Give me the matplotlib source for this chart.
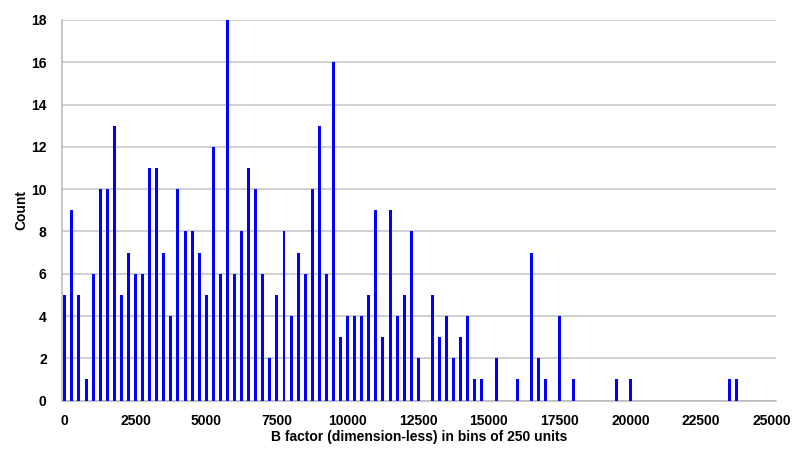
import matplotlib
matplotlib.use("Agg")
import matplotlib.pyplot as plt

# B factor histogram, bins of 250 units (only non-empty bins listed)
bin_starts = [0, 250, 500, 750, 1000, 1250, 1500, 1750, 2000, 2250, 2500, 2750,
              3000, 3250, 3500, 3750, 4000, 4250, 4500, 4750, 5000, 5250, 5500, 5750,
              6000, 6250, 6500, 6750, 7000, 7250, 7500, 7750, 8000, 8250, 8500, 8750,
              9000, 9250, 9500, 9750, 10000, 10250, 10500, 10750, 11000, 11250, 11500,
              11750, 12000, 12250, 12500, 13000, 13250, 13500, 13750, 14000, 14250,
              14500, 14750, 15250, 16000, 16500, 16750, 17000, 17500, 18000, 19500,
              20000, 23500, 23750]
counts = [5, 9, 5, 1, 6, 10, 10, 13, 5, 7, 6, 6,
          11, 11, 7, 4, 10, 8, 8, 7, 5, 12, 6, 18,
          6, 8, 11, 10, 6, 2, 5, 8, 4, 7, 6, 10,
          13, 6, 16, 3, 4, 4, 4, 5, 9, 3, 9,
          4, 5, 8, 2, 5, 3, 4, 2, 3, 4,
          1, 1, 2, 1, 7, 2, 1, 4, 1, 1,
          1, 1, 1]

x_ticks = list(range(0, 25001, 2500))
y_ticks = list(range(0, 19, 2))

plt.rcParams['font.family'] = ['Liberation Sans', 'DejaVu Sans']
plt.rcParams['font.weight'] = 'bold'

fig = plt.figure(figsize=(7.92, 4.49), dpi=100)
ax = fig.add_axes([0.0783, 0.1078, 0.9015, 0.8477])

ax.bar(bin_starts, counts, width=105, color='#0000ff', zorder=3)

ax.set_xlim(-100, 25150)
ax.set_ylim(0, 18)
ax.set_xticks(x_ticks)
ax.set_yticks(y_ticks)
ax.grid(axis='y', color='#c4c4c4', linewidth=1.1, zorder=0)

for side in ['top', 'right']:
    ax.spines[side].set_visible(False)
for side in ['left', 'bottom']:
    ax.spines[side].set_color('#b8b8b8')
    ax.spines[side].set_linewidth(1.1)

ax.tick_params(axis='both', length=0, labelsize=10)
ax.tick_params(axis='x', pad=10)
ax.tick_params(axis='y', pad=11)

ax.set_xlabel('B factor (dimension-less) in bins of 250 units', fontsize=10,
              fontweight='bold', labelpad=1)
ax.set_ylabel('Count', fontsize=10, fontweight='bold', labelpad=2)

plt.savefig("out.png", dpi=100)
